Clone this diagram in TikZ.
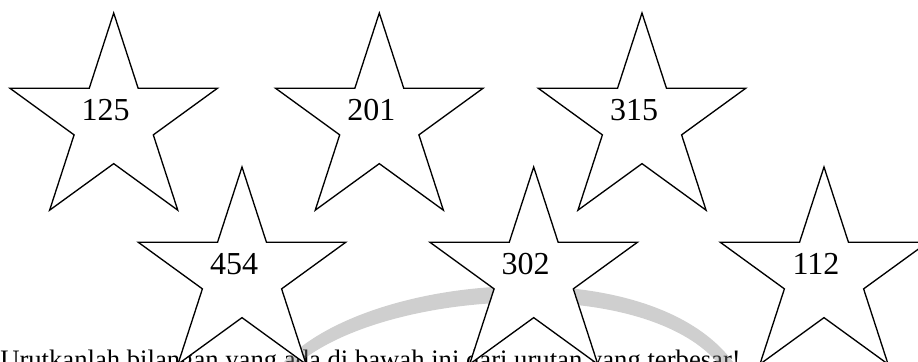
\documentclass[tikz,border=0pt]{standalone}
\usepackage{fontspec}
\setmainfont{Liberation Serif}
\usetikzlibrary{shapes.geometric,calc}
\tikzset{
	bintang/.style ={star, star points=5, star point ratio=2.618, draw, fill=white, line width=1pt, inner sep=0pt, minimum size=163.5pt}, % the minimum size is the diameter of the circle through the outer points
	angka/.style = {font=\fontsize{24}{24}\selectfont, inner sep=0pt},
	soal/.style = {font=\fontsize{20}{20}\selectfont, inner sep=0pt, anchor=base west}
}

\begin{document}
\begin{tikzpicture}[x=0.75pt,y=-0.75pt]
            \useasboundingbox (0,0) rectangle (918,361);
            \node[soal] (q) at (0,368) {Urutkanlah bilangan yang ada di bawah ini dari urutan yang terbesar!};
            % watermark
            \fill[gray, opacity=0.38] (284,362) .. controls (370,272) and (650,250) .. (733,362) -- (717,362) .. controls (640,275) and (390,290) .. (300,362) -- cycle;
            \node[bintang] (s125) at (113.7,122) {};
            \node[bintang] (s201) at (379.3,122) {};
            \node[bintang] (s315) at (642,122) {};
            \node[bintang] (s454) at (242,276) {};
            \node[bintang] (s302) at (533.7,276) {};
            \node[bintang] (s112) at (824,276) {};
            \node[angka] (n125) at ($(s125.center)+(-8,-12)$) {125};
            \node[angka] (n201) at ($(s201.center)+(-8,-12)$) {201};
            \node[angka] (n315) at ($(s315.center)+(-8,-12)$) {315};
            \node[angka] (n454) at ($(s454.center)+(-8,-12)$) {454};
            \node[angka] (n302) at ($(s302.center)+(-8,-12)$) {302};
            \node[angka] (n112) at ($(s112.center)+(-8,-12)$) {112};
        \end{tikzpicture}
\end{document}
